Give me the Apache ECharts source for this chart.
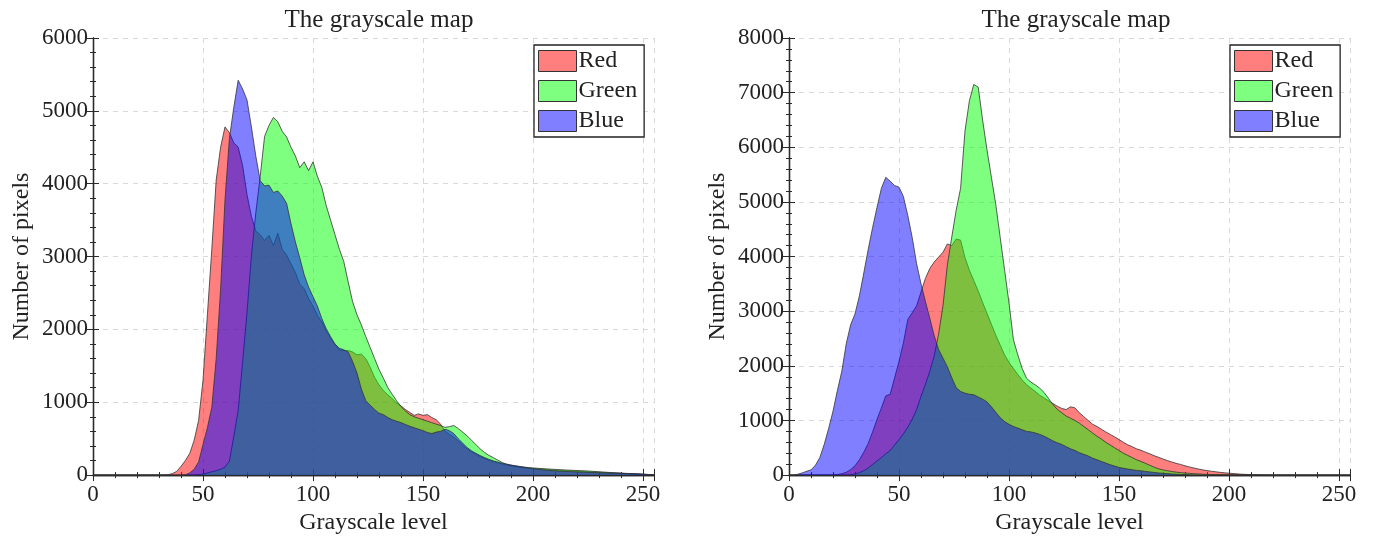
<!DOCTYPE html>
<html>
<head>
<meta charset="utf-8">
<script src="https://cdn.jsdelivr.net/npm/echarts@6/dist/echarts.min.js"></script>
<style>
  html, body { margin: 0; padding: 0; background: #fff; }
  #main { width: 1375px; height: 540px; }
</style>
</head>
<body>
<div id="main"></div>
<script>
// grayscale levels (bins) shared by both histograms
var levels = [
  0, 2, 4, 6, 8, 10, 12, 14, 16, 18,
  20, 22, 24, 26, 28, 30, 32, 34, 36, 38,
  40, 42, 44, 46, 48, 50, 52, 54, 56, 58,
  60, 62, 64, 66, 68, 70, 72, 74, 76, 78,
  80, 82, 84, 86, 88, 90, 92, 94, 96, 98,
  100, 102, 104, 106, 108, 110, 112, 114, 116, 118,
  120, 122, 124, 126, 128, 130, 132, 134, 136, 138,
  140, 142, 144, 146, 148, 150, 152, 154, 156, 158,
  160, 162, 164, 166, 168, 170, 172, 174, 176, 178,
  180, 182, 184, 186, 188, 190, 192, 194, 196, 198,
  200,
  205, 210, 215, 220, 225, 230, 235, 240, 245, 250, 255
];

// left image
var leftRed = [
  0, 0, 0, 0, 0, 0, 0, 0, 0, 0,
  0, 0, 0, 0, 0, 0, 0, 5, 20, 50,
  120, 200, 300, 480, 750, 1300, 2200, 3100, 4050, 4500,
  4780, 4700, 4560, 4500, 4250, 3850, 3550, 3350, 3300, 3220,
  3290, 3150, 3320, 3100, 3020, 2900, 2780, 2620, 2560, 2420,
  2320, 2190, 2100, 1980, 1880, 1790, 1720, 1710, 1710, 1690,
  1650, 1660, 1600, 1480, 1340, 1240, 1160, 1100, 1050, 990,
  950, 900, 860, 820, 840, 820, 830, 790, 760, 700,
  600, 560, 520, 470, 410, 360, 320, 285, 255, 228,
  205, 185, 168, 152, 138, 126, 116, 107, 99, 93,
  88,
  78, 68, 60, 52, 45, 38, 30, 24, 17, 10, 4
];
var leftGreen = [
  0, 0, 0, 0, 0, 0, 0, 0, 0, 0,
  0, 0, 0, 0, 0, 0, 0, 0, 0, 0,
  0, 0, 0, 0, 5, 15, 30, 45, 60, 80,
  110, 190, 530, 890, 1550, 2230, 3010, 3600, 4100, 4650,
  4800, 4910, 4850, 4720, 4640, 4500, 4380, 4220, 4300, 4180,
  4300, 4100, 3950, 3700, 3500, 3300, 3100, 2930, 2650, 2380,
  2200, 2060, 1900, 1750, 1600, 1450, 1330, 1200, 1110, 1020,
  940, 880, 830, 800, 780, 760, 740, 720, 700, 680,
  655, 665, 680, 640, 590, 540, 480, 420, 360, 310,
  270, 240, 205, 172, 150, 135, 125, 116, 109, 104,
  98,
  88, 78, 70, 63, 56, 46, 36, 26, 18, 11, 4
];
var leftBlue = [
  0, 0, 0, 0, 0, 0, 0, 0, 0, 0,
  0, 0, 0, 0, 0, 0, 0, 0, 0, 0,
  0, 5, 30, 80, 180, 420, 650, 930, 1600, 2550,
  3780, 4620, 5050, 5420, 5300, 5150, 4780, 4380, 4040, 3970,
  3980, 3880, 3900, 3830, 3730, 3450, 3200, 2980, 2750, 2580,
  2450, 2320, 2150, 2010, 1900, 1800, 1740, 1720, 1690, 1560,
  1400, 1180, 1020, 960, 900, 850, 830, 790, 760, 740,
  720, 695, 670, 650, 630, 610, 585, 570, 590, 600,
  630, 610, 570, 500, 440, 380, 335, 300, 268, 240,
  215, 195, 178, 163, 150, 138, 128, 118, 108, 98,
  90,
  70, 58, 50, 44, 38, 32, 28, 25, 21, 14, 4
];

// right image
var rightRed = [
  0, 0, 0, 0, 0, 0, 0, 0, 0, 0,
  2, 10, 25, 50, 100, 170, 280, 420, 580, 790,
  1020, 1230, 1450, 1480, 1780, 2080, 2420, 2850, 2970, 3100,
  3350, 3600, 3780, 3900, 3990, 4080, 4230, 4200, 4320, 4300,
  3980, 3750, 3560, 3370, 3160, 2960, 2760, 2560, 2380, 2200,
  2060, 1950, 1840, 1740, 1655, 1590, 1530, 1460, 1410, 1360,
  1310, 1260, 1220, 1200, 1250, 1230, 1140, 1070, 1000, 930,
  890, 840, 790, 745, 700, 650, 600, 555, 520, 480,
  455, 420, 390, 355, 325, 295, 265, 240, 215, 195,
  170, 150, 130, 112, 96, 82, 70, 60, 50, 42,
  35,
  18, 8, 3, 0, 0, 0, 0, 0, 0, 0, 0
];
var rightGreen = [
  0, 0, 0, 0, 0, 0, 0, 0, 0, 0,
  0, 0, 0, 0, 5, 20, 45, 80, 130, 195,
  260, 320, 390, 450, 550, 650, 755, 880, 1020, 1200,
  1440, 1660, 1900, 2180, 2580, 3100, 3850, 4360, 4850, 5250,
  6300, 6850, 7150, 7100, 6500, 5950, 5450, 4950, 4350, 3750,
  3150, 2480, 2200, 1950, 1770, 1700, 1650, 1590, 1510, 1400,
  1290, 1200, 1140, 1080, 1040, 1000, 950, 890, 830, 770,
  710, 660, 600, 550, 500, 450, 400, 360, 320, 280,
  250, 215, 180, 145, 115, 95, 80, 65, 55, 45,
  38, 32, 26, 21, 17, 14, 12, 10, 9, 8,
  7,
  4, 2, 1, 0, 0, 0, 0, 0, 0, 0, 0
];
var rightBlue = [
  0, 2, 15, 40, 70, 95, 180, 320, 560, 850,
  1170, 1550, 1900, 2400, 2750, 2950, 3280, 3700, 4130, 4530,
  4900, 5250, 5450, 5380, 5300, 5270, 5100, 4750, 4350, 3870,
  3500, 3180, 2870, 2550, 2300, 2140, 1980, 1780, 1600, 1530,
  1500, 1480, 1470, 1430, 1390, 1340, 1250, 1150, 1050, 980,
  930, 890, 860, 830, 800, 790, 770, 745, 710, 670,
  625, 590, 560, 520, 480, 450, 410, 380, 350, 310,
  280, 250, 220, 190, 165, 140, 125, 110, 98, 86,
  78, 68, 58, 48, 40, 33, 27, 21, 16, 12,
  9, 6, 4, 3, 2, 1, 0, 0, 0, 0,
  0,
  0, 0, 0, 0, 0, 0, 0, 0, 0, 0, 0
];

var channelNames = ['Red', 'Green', 'Blue'];
var channelFills = ['rgba(255,0,0,0.5)', 'rgba(0,255,0,0.5)', 'rgba(0,0,255,0.5)'];

var FONT = 'Liberation Serif';
var INK = '#222';

function pairs(vals) {
    return levels.map(function(l, i) { return [l, vals[i]]; });
}

function xAxes(grid) {
    var base = {
        gridIndex: grid, type: 'value', min: 0, max: 255, interval: 50,
        axisLine: {show: true, lineStyle: {color: '#2a2a2a', width: 1.3}},
        axisTick: {show: true, inside: true, length: 6, lineStyle: {color: '#2a2a2a'}},
        minorTick: {show: true, splitNumber: 5, length: 3, lineStyle: {color: '#2a2a2a'}}
    };
    var bottom = Object.assign({}, base, {
        position: 'bottom',
        name: 'Grayscale level', nameLocation: 'middle', nameGap: 30,
        nameTextStyle: {fontFamily: FONT, fontSize: 24, color: INK},
        axisLabel: {fontFamily: FONT, fontSize: 23, color: INK, margin: 8, showMaxLabel: false,
                    formatter: function(v) { return String(v); }},
        splitLine: {show: true, lineStyle: {color: '#d8d8d8', type: [5, 5], width: 1}}
    });
    var top = Object.assign({}, base, {
        position: 'top', axisLabel: {show: false}, splitLine: {show: false}
    });
    return [bottom, top];
}

function yAxes(grid, max) {
    var base = {
        gridIndex: grid, type: 'value', min: 0, max: max, interval: 1000,
        axisLine: {show: true, lineStyle: {color: '#2a2a2a', width: 1.3}},
        axisTick: {show: true, inside: true, length: 6, lineStyle: {color: '#2a2a2a'}},
        minorTick: {show: true, splitNumber: 5, length: 3, lineStyle: {color: '#2a2a2a'}}
    };
    var left = Object.assign({}, base, {
        position: 'left',
        name: 'Number of pixels', nameLocation: 'middle', nameGap: 59,
        nameTextStyle: {fontFamily: FONT, fontSize: 24, color: INK},
        axisLabel: {fontFamily: FONT, fontSize: 23, color: INK, margin: 5,
                    formatter: function(v) { return String(v); }},
        splitLine: {show: true, lineStyle: {color: '#d8d8d8', type: [5, 5], width: 1}}
    });
    var right = Object.assign({}, base, {
        position: 'right', axisLabel: {show: false}, splitLine: {show: false}
    });
    return [left, right];
}

function histSeries(grid, valsList) {
    return valsList.map(function(vals, k) {
        return {
            name: channelNames[k], type: 'line',
            xAxisIndex: grid * 2, yAxisIndex: grid * 2,
            data: pairs(vals),
            showSymbol: false, symbol: 'none',
            lineStyle: {color: '#333', width: 0.8},
            itemStyle: {color: channelFills[k]},
            areaStyle: {color: channelFills[k], opacity: 1},
            z: 2 + k
        };
    });
}

function legendFor(left) {
    return {
        orient: 'vertical', left: left, top: 45,
        backgroundColor: '#fff', borderColor: '#222', borderWidth: 1.3,
        padding: [4, 7, 4, 4], itemWidth: 38, itemHeight: 21, itemGap: 6,
        icon: 'rect',
        textStyle: {fontFamily: FONT, fontSize: 24, color: INK, padding: [0, 0, 0, -3]},
        data: channelNames.map(function(n, k) {
            return {name: n, itemStyle: {color: channelFills[k], borderColor: '#333', borderWidth: 1}};
        })
    };
}

var chart = echarts.init(document.getElementById('main'));
chart.setOption({
    animation: false,
    backgroundColor: '#fff',
    title: [
        {text: 'The grayscale map', left: 374, top: 3, textAlign: 'center',
         textStyle: {fontFamily: FONT, fontSize: 25, fontWeight: 'normal', color: INK}},
        {text: 'The grayscale map', left: 1071, top: 3, textAlign: 'center',
         textStyle: {fontFamily: FONT, fontSize: 25, fontWeight: 'normal', color: INK}}
    ],
    legend: [legendFor(534), legendFor(1230)],
    grid: [
        {left: 93, top: 38, width: 561, height: 440},
        {left: 789, top: 38, width: 561, height: 440}
    ],
    xAxis: xAxes(0).concat(xAxes(1)),
    yAxis: yAxes(0, 6000).concat(yAxes(1, 8000)),
    series: histSeries(0, [leftRed, leftGreen, leftBlue])
        .concat(histSeries(1, [rightRed, rightGreen, rightBlue]))
});
</script>
</body>
</html>
